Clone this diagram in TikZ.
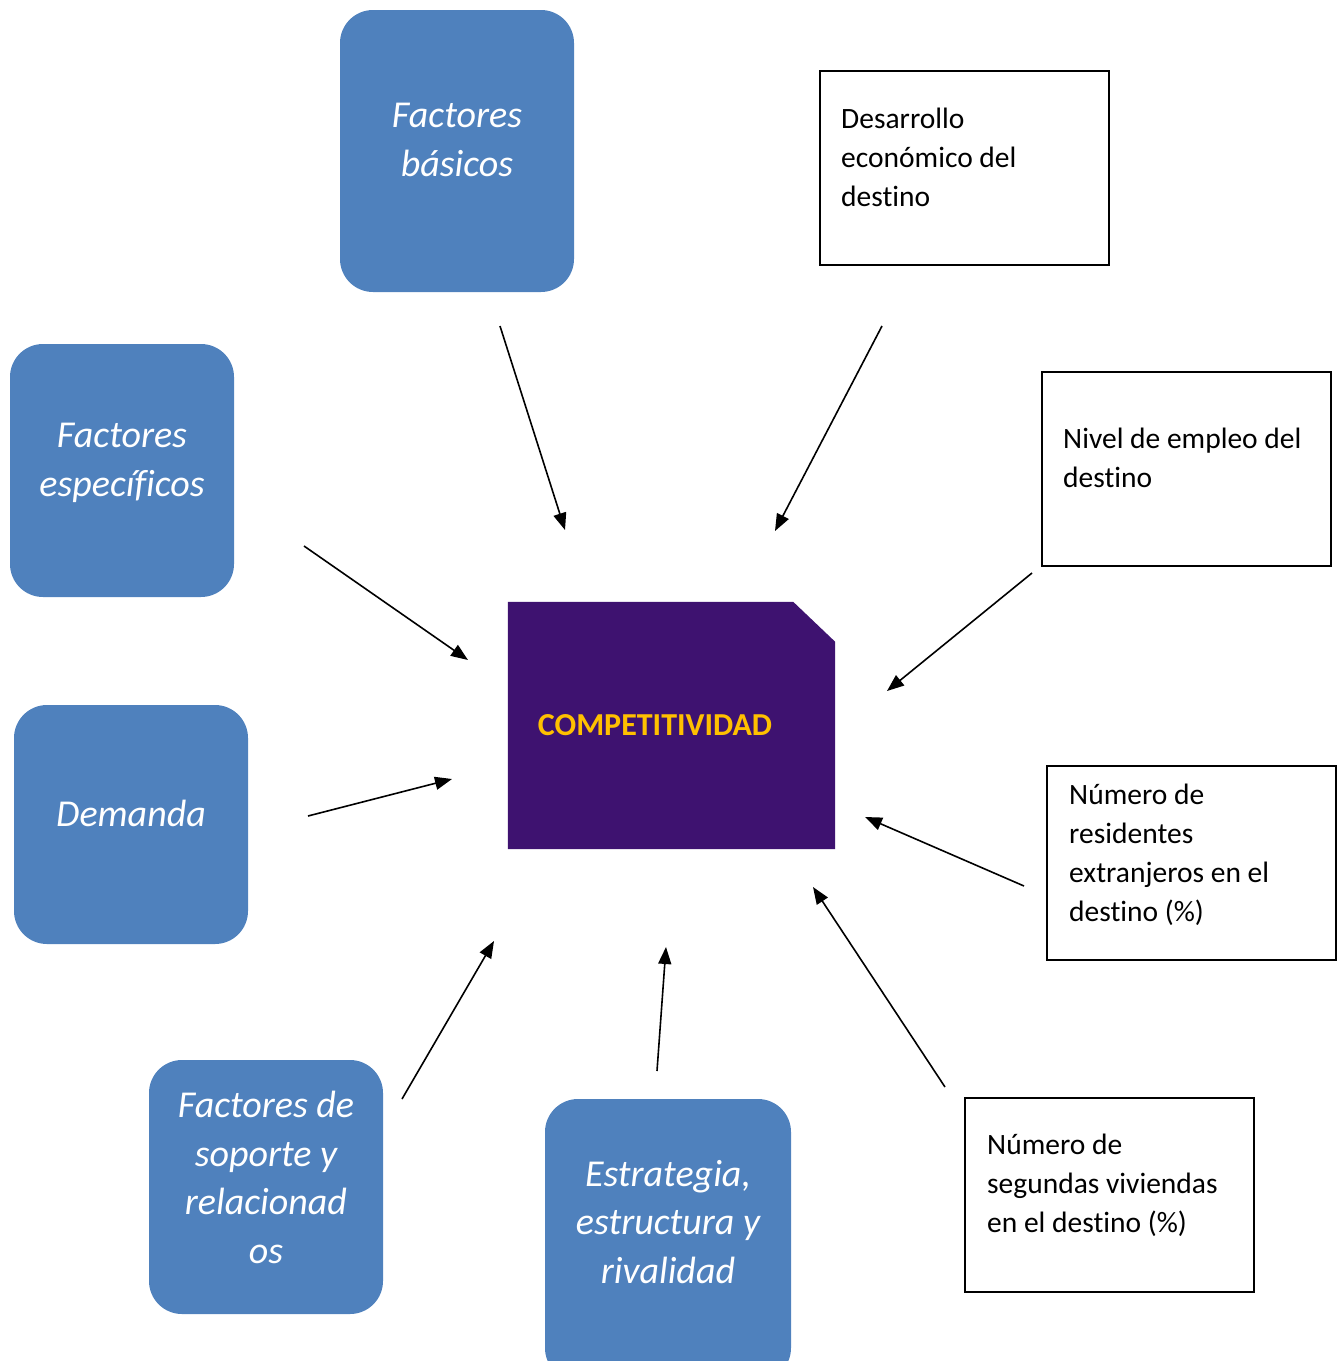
\documentclass[tikz,border=0pt]{standalone}
\usepackage{fontspec}
\setmainfont[Ligatures=NoCommon]{Carlito}
\usetikzlibrary{arrows.meta}
\definecolor{boxblue}{RGB}{79,129,189}
\definecolor{compurple}{RGB}{62,18,112}
\definecolor{compgold}{RGB}{255,192,0}
\begin{document}
\begin{tikzpicture}[x=1pt,y=-1pt,
  bluebox/.style={fill=boxblue, draw=none, rounded corners=33pt, inner sep=0pt},
  bluetext/.style={text=white, font=\fontsize{38}{48.5}\selectfont\itshape, align=center, anchor=base, inner sep=0pt},
  plainbox/.style={draw=black, line width=2pt, fill=white, inner sep=0pt},
  plaintext/.style={text=black, font=\fontsize{29.5}{38.8}\selectfont, align=left, anchor=base west, inner sep=0pt},
  comptext/.style={text=compgold, font=\fontsize{32}{38}\selectfont\bfseries, anchor=base, inner sep=0pt},
  arr/.style={line width=1.6pt, -{Triangle[length=17pt,width=13pt]}}
]
\useasboundingbox (0,0) rectangle (1343,1361);
\clip (0,0) rectangle (1343,1361);

% blue boxes
\node[bluebox, minimum width=234pt, minimum height=282pt] (fb) at (457,151) {};
\node[bluebox, minimum width=224pt, minimum height=253pt] (fe) at (122,470.5) {};
\node[bluebox, minimum width=234pt, minimum height=239pt] (dm) at (131,824.5) {};
\node[bluebox, minimum width=234pt, minimum height=254pt] (fs) at (266,1187) {};
\node[bluebox, minimum width=246pt, minimum height=282pt] (es) at (668,1240) {};

% (base anchor = baseline of the last line)
\node[bluetext] (fbT) at (457,176) {Factores\\básicos};
\node[bluetext] (feT) at (122,496) {Factores\\específicos};
\node[bluetext] (dmT) at (131,826) {Demanda};
\node[bluetext] (fsT) at (266,1263) {Factores de\\soporte y\\relacionad\\os};
\node[bluetext] (esT) at (668,1283) {Estrategia,\\estructura y\\rivalidad};

% plain boxes
\node[plainbox, minimum width=289pt, minimum height=194pt] (d1) at (964.5,168) {};
\node[plainbox, minimum width=289pt, minimum height=194pt] (d2) at (1186.5,469) {};
\node[plainbox, minimum width=289pt, minimum height=194pt] (d3) at (1191.5,863) {};
\node[plainbox, minimum width=289pt, minimum height=194pt] (d4) at (1109.5,1195) {};

\node[plaintext] (d1T) at (841,206) {Desarrollo\\económico del\\destino};
\node[plaintext] (d2T) at (1063,487) {Nivel de empleo del\\destino};
\node[plaintext] (d3T) at (1069,921) {Número de\\residentes\\extranjeros en el\\destino (\%)};
\node[plaintext] (d4T) at (987,1232) {Número de\\segundas viviendas\\en el destino (\%)};

% central shape
\node[minimum width=327pt, minimum height=247pt, inner sep=0pt] (comp) at (671.5,725.5) {};
\fill[compurple] (comp.south west) -- (comp.north west) -- ([xshift=-42pt]comp.north east)
  -- ([yshift=-40pt]comp.north east) -- (comp.south east) -- cycle;
\node[comptext] (compT) at (655,735) {COMPETITIVIDAD};

% arrows
\coordinate (a1s) at (500,326);  \coordinate (a1e) at (565,530);
\coordinate (a2s) at (882,326);  \coordinate (a2e) at (775,531);
\coordinate (a3s) at (304,546);  \coordinate (a3e) at (468,660);
\coordinate (a4s) at (1032,573); \coordinate (a4e) at (887,691);
\coordinate (a5s) at (308,816);  \coordinate (a5e) at (452,779);
\coordinate (a6s) at (1024,886); \coordinate (a6e) at (865,817);
\coordinate (a7s) at (402,1099); \coordinate (a7e) at (494,941);
\coordinate (a8s) at (657,1071); \coordinate (a8e) at (666,947);
\coordinate (a9s) at (945,1087); \coordinate (a9e) at (813,887);
\foreach \i in {1,...,9} { \draw[arr] (a\i s) -- (a\i e); }
\end{tikzpicture}
\end{document}
